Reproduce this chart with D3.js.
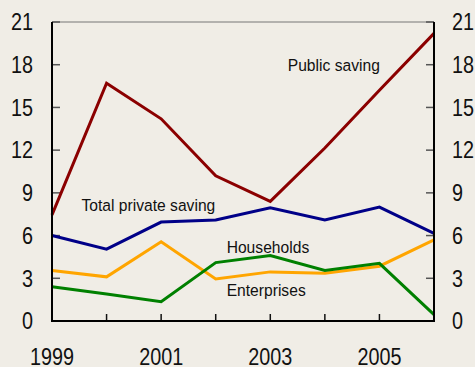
<!DOCTYPE html>
<html>
<head>
<meta charset="utf-8">
<script src="https://cdn.jsdelivr.net/npm/d3@7"></script>
<style>
  html, body { margin: 0; padding: 0; background: #f0ede6; }
  svg { display: block; }
  text { font-family: "Liberation Sans", Arial, sans-serif; fill: #111; }
</style>
</head>
<body>
<div id="chart"></div>
<script>
// data (per cent)
var years = [1999, 2000, 2001, 2002, 2003, 2004, 2005, 2006];
var publicSaving = [7.45, 16.7, 14.2, 10.2, 8.4, 12.15, 16.2, 20.2];
var totalPrivate = [6.0, 5.05, 6.95, 7.1, 7.95, 7.1, 8.0, 6.15];
var households = [3.55, 3.1, 5.57, 2.95, 3.45, 3.35, 3.85, 5.7];
var enterprises = [2.4, 1.9, 1.35, 4.1, 4.6, 3.55, 4.05, 0.45];
var yTicks = [0, 3, 6, 9, 12, 15, 18, 21];
var xTickLabels = [1999, 2001, 2003, 2005];
var xInnerTicks = [2000, 2001, 2002, 2003, 2004, 2005];

var series = [
  {name: "Public saving", values: publicSaving, color: "#8b0000"},
  {name: "Total private saving", values: totalPrivate, color: "#000088"},
  {name: "Households", values: households, color: "#ffa500"},
  {name: "Enterprises", values: enterprises, color: "#008000"}
];

var W = 475, H = 367;
var pLeft = 52, pRight = 434, pTop = 22, pBottom = 321;

var svg = d3.select("#chart").append("svg")
  .attr("width", W)
  .attr("height", H);

var x = d3.scaleLinear().domain([1999, 2006]).range([pLeft, pRight]);
var y = d3.scaleLinear().domain([0, 21]).range([pBottom, pTop]);

// top frame line
svg.append("line")
  .attr("x1", pLeft).attr("x2", pRight)
  .attr("y1", pTop).attr("y2", pTop)
  .attr("stroke", "#777").attr("stroke-width", 1);

// y ticks, both sides, pointing in
svg.append("g")
  .selectAll("line")
  .data(yTicks)
  .enter().append("line")
  .attr("x1", pLeft).attr("x2", pLeft + 8)
  .attr("y1", function(d) { return y(d); })
  .attr("y2", function(d) { return y(d); })
  .attr("stroke", "#555").attr("stroke-width", 1.5);
svg.append("g")
  .selectAll("line")
  .data(yTicks)
  .enter().append("line")
  .attr("x1", pRight - 8).attr("x2", pRight)
  .attr("y1", function(d) { return y(d); })
  .attr("y2", function(d) { return y(d); })
  .attr("stroke", "#555").attr("stroke-width", 1.5);

// x ticks pointing up
svg.append("g")
  .selectAll("line")
  .data(xInnerTicks)
  .enter().append("line")
  .attr("x1", function(d) { return x(d); })
  .attr("x2", function(d) { return x(d); })
  .attr("y1", pBottom).attr("y2", pBottom - 7)
  .attr("stroke", "#111").attr("stroke-width", 1.5);

// lines
var line = d3.line()
  .x(function(d, i) { return x(years[i]); })
  .y(function(d) { return y(d); });

svg.append("g")
  .selectAll("path")
  .data(series)
  .enter().append("path")
  .attr("d", function(d) { return line(d.values); })
  .attr("fill", "none")
  .attr("stroke", function(d) { return d.color; })
  .attr("stroke-width", 3)
  .attr("stroke-linejoin", "miter");

// axis frame left / bottom / right
svg.append("path")
  .attr("d", "M" + pLeft + "," + pTop + "V" + pBottom + "H" + pRight + "V" + pTop)
  .attr("fill", "none")
  .attr("stroke", "#000")
  .attr("stroke-width", 2);

// condensed text helper
function label(g, txt, px, py, size, anchor, sx) {
  return g.append("text")
    .attr("transform", "translate(" + px + "," + py + ") scale(" + sx + ",1)")
    .attr("text-anchor", anchor)
    .style("font-size", size + "px")
    .text(txt);
}

var tickG = svg.append("g");
yTicks.forEach(function(d) {
  label(tickG, d, pLeft - 19, y(d) + 8.3, 23, "end", 0.86);
  label(tickG, d, pRight + 18, y(d) + 8.3, 23, "start", 0.86);
});
xTickLabels.forEach(function(d) {
  label(tickG, d, x(d), 365, 23, "middle", 0.86);
});

// series names
var annG = svg.append("g");
label(annG, "Public saving", x(2003.32), y(17.55), 17, "start", 0.92);
label(annG, "Total private saving", x(1999.54), y(7.75), 17, "start", 0.92);
label(annG, "Households", x(2002.2), y(4.75), 17, "start", 0.92);
label(annG, "Enterprises", x(2002.2), y(1.75), 17, "start", 0.92);
</script>
</body>
</html>
